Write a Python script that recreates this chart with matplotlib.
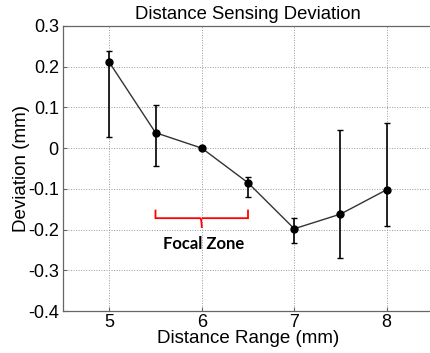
import matplotlib
matplotlib.use("Agg")
import matplotlib.pyplot as plt
from matplotlib.path import Path
from matplotlib.patches import PathPatch

# Measured deviation versus distance, with asymmetric error bounds
distance = [5.0, 5.5, 6.0, 6.5, 7.0, 7.5, 8.0]
deviation = [0.211, 0.038, 0.0, -0.085, -0.198, -0.162, -0.102]
upper = [0.239, 0.107, 0.0, -0.071, -0.171, 0.044, 0.061]
lower = [0.028, -0.044, 0.0, -0.119, -0.232, -0.269, -0.192]

xticks = [5, 6, 7, 8]
yticks = [0.3, 0.2, 0.1, 0, -0.1, -0.2, -0.3, -0.4]
ytick_labels = ["0.3", "0.2", "0.1", "0", "-0.1", "-0.2", "-0.3", "-0.4"]

focal_start, focal_end = 5.5, 6.5

plt.rcParams["font.family"] = ["Liberation Sans", "DejaVu Sans"]

fig = plt.figure(figsize=(4.30, 3.53), dpi=100)
ax = fig.add_axes([63 / 430, 42 / 353, 370 / 430, 285 / 353])

yerr = [[d - lo for d, lo in zip(deviation, lower)],
        [up - d for d, up in zip(deviation, upper)]]
ax.plot(distance, deviation, color="#333333", lw=1.0, zorder=3)
ax.errorbar(distance, deviation, yerr=yerr, fmt="o", color="black",
            ms=5, elinewidth=1.2, capsize=2.5, capthick=1.0, zorder=4)

ax.set_xlim(4.5, 8.5)
ax.set_ylim(-0.4, 0.3)
ax.set_xticks(xticks)
ax.set_yticks(yticks)
ax.set_yticklabels(ytick_labels)
ax.tick_params(direction="in", length=3, width=0.8, color="#666666",
               labelsize=13, pad=3)
ax.tick_params(axis="x", pad=2.5)
ax.grid(True, linestyle=(0, (1, 1.6)), color="#999999", lw=0.7)
ax.set_axisbelow(True)
for s in ax.spines.values():
    s.set_color("#666666")
    s.set_linewidth(0.9)

ax.set_title("Distance Sensing Deviation", fontsize=13.3, pad=5)
ax.set_xlabel("Distance Range (mm)", fontsize=13.5)
ax.xaxis.set_label_coords(0.5, -0.068)
ax.set_ylabel("Deviation (mm)", fontsize=13.5)
ax.yaxis.set_label_coords(-0.09, 0.5)

# Curly bracket marking the focal zone
mid = (focal_start + focal_end) / 2
yb, ytop, ytip = -0.172, -0.151, -0.196
r = 0.03
verts = [(focal_start, ytop), (focal_start, yb), (focal_start + r, yb),
         (mid - 0.02, yb), (mid, yb), (mid, ytip),
         (mid, yb), (mid + 0.02, yb),
         (focal_end - r, yb), (focal_end, yb), (focal_end, ytop)]
codes = [Path.MOVETO, Path.LINETO, Path.LINETO,
         Path.LINETO, Path.CURVE3, Path.CURVE3,
         Path.MOVETO, Path.LINETO,
         Path.LINETO, Path.LINETO, Path.LINETO]
ax.add_patch(PathPatch(Path(verts, codes), fill=False, edgecolor="red",
                       lw=1.3, zorder=5))
ax.text(mid + 0.02, -0.236, "Focal Zone", ha="center", va="center",
        fontsize=12, fontweight="bold", family=["Lato", "DejaVu Sans"],
        zorder=5)

fig.savefig("out.png", dpi=100)
